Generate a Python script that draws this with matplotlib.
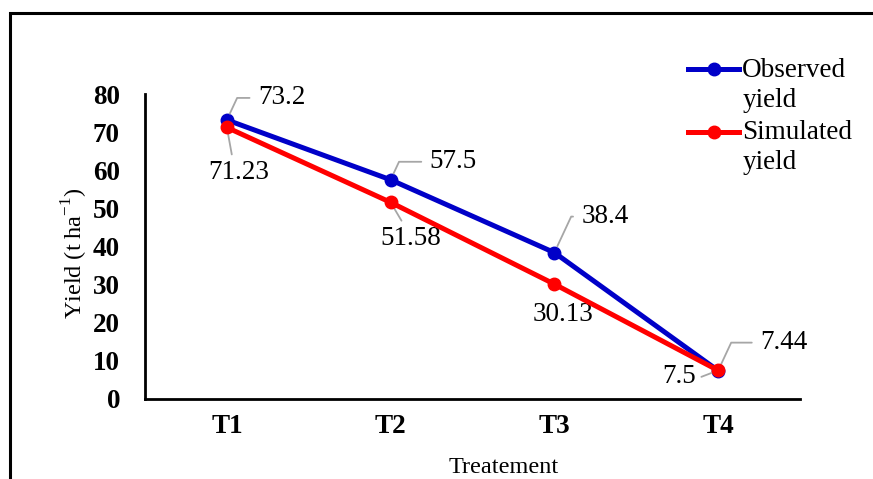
import matplotlib
matplotlib.use("Agg")
import matplotlib.pyplot as plt
from matplotlib.patches import Rectangle

plt.rcParams['font.family'] = ['Liberation Serif', 'DejaVu Serif']
plt.rcParams['mathtext.fontset'] = 'custom'
plt.rcParams['mathtext.rm'] = 'Liberation Serif'

# données
treatments = ["T1", "T2", "T3", "T4"]
observed = [73.2, 57.5, 38.4, 7.44]
simulated = [71.23, 51.58, 30.13, 7.5]

# décalages des étiquettes (pixels)
obs_offsets = [(31, 22), (39, 18), (27, 36), (42, 28)]
sim_offsets = [(12, -45), (20, -36), (9, -30), (-39, -6)]

fig = plt.figure(figsize=(8.73, 4.79), dpi=100)
ax = fig.add_axes([145 / 873, 1 - 399 / 479, 655 / 873, 305 / 479])

x = list(range(len(treatments)))
ax.plot(x, observed, color="#0000C8", lw=3.6, marker="o", ms=9,
        label="Observed\nyield", zorder=3)
ax.plot(x, simulated, color="#FF0000", lw=3.6, marker="o", ms=9,
        label="Simulated\nyield", zorder=4)

gris = "#A6A6A6"
fs = 19.5

# étiquettes observées : au-dessus à droite, trait coudé
for xi, v, (dx, dy) in zip(x, observed, obs_offsets):
    ax.annotate(f"{v:g}", (xi, v), xytext=(dx, dy), textcoords="offset pixels",
                ha="left", va="center", fontsize=fs,
                arrowprops=dict(arrowstyle="-", color=gris, lw=1.3,
                                relpos=(0, 0.5), shrinkA=4, shrinkB=5,
                                connectionstyle="angle,angleA=0,angleB=65,rad=0"))

# étiquettes simulées : en dessous
for i, (xi, v, (dx, dy)) in enumerate(zip(x, simulated, sim_offsets)):
    if i == 3:
        arrow = dict(arrowstyle="-", color=gris, lw=1.3, relpos=(1, 0.4),
                     shrinkA=2, shrinkB=4)
    elif i == 2:
        arrow = None
    else:
        arrow = dict(arrowstyle="-", color=gris, lw=1.3, relpos=(0.4, 1),
                     shrinkA=2, shrinkB=5)
    ax.annotate(f"{v:g}", (xi, v), xytext=(dx, dy), textcoords="offset pixels",
                ha="center", va="center", fontsize=fs, arrowprops=arrow)

ax.set_xlim(-0.5, 3.5)
ax.set_ylim(0, 80)
ax.set_yticks(range(0, 81, 10))
ax.set_xticks(x)
ax.set_xticklabels(treatments)

for s in ["top", "right"]:
    ax.spines[s].set_visible(False)
for s in ["left", "bottom"]:
    ax.spines[s].set_linewidth(2.0)

ax.tick_params(axis="y", length=0, pad=18, labelsize=fs)
ax.tick_params(axis="x", length=0, pad=11, labelsize=fs)
for lab in ax.get_xticklabels() + ax.get_yticklabels():
    lab.set_fontweight("bold")

ax.set_xlabel("Treatement", fontsize=17.5)
ax.xaxis.label.set_va("center")
ax.xaxis.set_label_coords(0.547, -0.223)
ax.set_ylabel(r"Yield (t ha$^{\mathregular{-1}}$)", fontsize=17.5)
ax.yaxis.label.set_va("center")
ax.yaxis.set_label_coords(-0.107, 0.479)

leg = ax.legend(loc="upper left", bbox_to_anchor=(688 / 873, 1 - 58 / 479),
                bbox_transform=fig.transFigure, frameon=False, fontsize=fs,
                handlelength=1.9, handletextpad=0.1, labelspacing=0.28,
                borderaxespad=0, borderpad=0)
for t in leg.get_texts():
    t.set_linespacing(1.25)
# symbole aligné sur la première ligne du libellé
for h in leg.legend_handles:
    h.set_ydata([y + 11.5 for y in h.get_ydata()])

# cadre autour de la figure
fig.patches.append(Rectangle((10 / 873, -0.1), 1.5, 1 - 13 / 479 + 0.1,
                             transform=fig.transFigure, fill=False,
                             lw=2.2, ec="black"))

fig.savefig("out.png", dpi=100)
